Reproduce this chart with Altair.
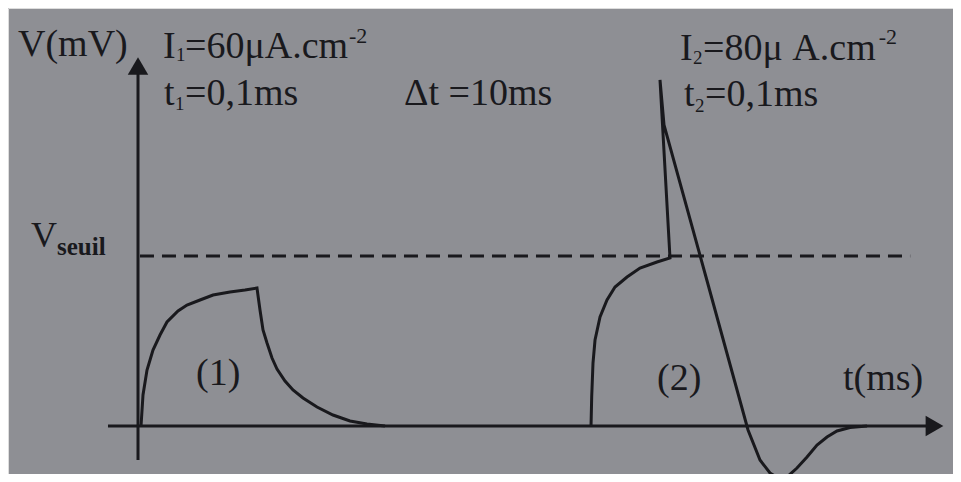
import altair as alt
import pandas as pd

# ---- data (t in ms, V in arbitrary mV units) ----
# response (1): subthreshold stimulus I1
t_curve1 = [0.067, 0.111, 0.2, 0.333, 0.489, 0.644, 0.889, 1.089, 1.378, 1.667,
            2.044, 2.378, 2.644, 2.711, 2.778, 2.867, 2.978, 3.089, 3.267, 3.444,
            3.667, 3.978, 4.333, 4.711, 5.089, 5.489]
v_curve1 = [0, 3.1, 5.6, 7.6, 9.1, 10.4, 11.5, 12.1, 12.6, 13.1,
            13.4, 13.6, 13.8, 11.6, 9.6, 8.3, 6.8, 5.7, 4.5, 3.6,
            2.8, 1.9, 1.1, 0.5, 0.2, 0]
# response (2): stimulus I2 -> action potential
t_curve2 = [10.067, 10.082, 10.111, 10.156, 10.267, 10.422, 10.6, 10.867, 11.156, 11.533,
            11.822, 11.6, 11.689, 12.622, 13.556, 13.822, 14.044, 14.222, 14.422, 14.644,
            14.867, 15.089, 15.311, 15.533, 15.822, 16.2]
v_curve2 = [0, 2.9, 6.3, 8.6, 10.9, 12.6, 13.9, 14.9, 15.8, 16.4,
            16.8, 34.6, 30.1, 14.9, -0.4, -3.4, -4.7, -5.2, -5.1, -4.2,
            -3.1, -1.9, -1.1, -0.5, -0.15, 0]

v_seuil = 17.0
seuil_t = [0.044, 17.16]

x_axis_t = [-0.667, 17.7]
y_axis_v = [-3.4, 36.0]

label_text = ["V(mV)", "I", "1", "=60μA.cm", "-2", "t", "1", "=0,1ms", "Δt =10ms",
              "I", "2", "=80μ A.cm", "-2", "t", "2", "=0,1ms",
              "V", "(1)", "(2)", "t(ms)"]
label_t = [-2.667, 0.556, 0.844, 1.044, 4.689, 0.578, 0.822, 1.044, 5.911,
           12.044, 12.333, 12.556, 16.46, 12.133, 12.378, 12.6,
           -2.378, 1.289, 11.533, 15.667]
label_v = [37.0, 36.8, 36.5, 36.8, 38.3, 32.1, 31.6, 32.1, 32.1,
           36.6, 36.2, 36.6, 38.2, 32.0, 31.4, 32.0,
           17.9, 4.1, 3.6, 3.6]
label_size = [38, 38, 19, 38, 22, 38, 19, 38, 38,
              38, 19, 38, 22, 38, 19, 38,
              36, 38, 38, 38]

seuil_label = ["seuil"]
seuil_label_t = [-1.8]
seuil_label_v = [17.1]

# ---- tables ----
curves = pd.DataFrame({
    "t": t_curve1 + t_curve2,
    "V": v_curve1 + v_curve2,
    "serie": ["1"] * len(t_curve1) + ["2"] * len(t_curve2),
    "ordre": list(range(len(t_curve1))) + list(range(len(t_curve2))),
})
axes = pd.DataFrame({
    "t": x_axis_t + [0, 0],
    "V": [0, 0] + y_axis_v,
    "axe": ["x", "x", "y", "y"],
})
seuil = pd.DataFrame({"t": seuil_t, "V": [v_seuil, v_seuil]})
heads = pd.DataFrame({
    "t": [x_axis_t[1], 0],
    "V": [0, y_axis_v[1]],
    "shape": ["triangle-right", "triangle-up"],
})
labels = pd.DataFrame({"t": label_t, "V": label_v, "text": label_text, "size": label_size})
seuil_lab = pd.DataFrame({"t": seuil_label_t, "V": seuil_label_v, "text": seuil_label})

INK = "#19191d"
SERIF = "Liberation Serif, Times New Roman, serif"
xs = alt.Scale(domain=[-2.889, 18.111], nice=False, zero=False)
ys = alt.Scale(domain=[-4.8, 41.8], nice=False, zero=False)
X = alt.X("t:Q", scale=xs, axis=None)
Y = alt.Y("V:Q", scale=ys, axis=None)

axes_layer = alt.Chart(axes).mark_line(color=INK, strokeWidth=3).encode(
    x=X, y=Y, detail="axe:N")
seuil_layer = alt.Chart(seuil).mark_line(color=INK, strokeWidth=3, strokeDash=[14, 8]).encode(
    x=X, y=Y)
curve_layer = alt.Chart(curves).mark_line(color=INK, strokeWidth=3, strokeJoin="miter").encode(
    x=X, y=Y, detail="serie:N", order="ordre:Q")
head_layer = alt.Chart(heads).mark_point(filled=True, color=INK, opacity=1, size=420).encode(
    x=X, y=Y, shape=alt.Shape("shape:N", scale=None))
text_layer = alt.Chart(labels).mark_text(
    align="left", baseline="alphabetic", font=SERIF, color=INK
).encode(x=X, y=Y, text="text:N", size=alt.Size("size:Q", scale=None))
seuil_text = alt.Chart(seuil_lab).mark_text(
    align="left", baseline="alphabetic", font=SERIF, color=INK, fontSize=25, fontWeight="bold"
).encode(x=X, y=Y, text="text:N")

chart = alt.layer(axes_layer, seuil_layer, curve_layer, head_layer, text_layer, seuil_text).properties(
    width=945, height=466, padding=0,
    autosize=alt.AutoSizeParams(type="none"),
    background="#8e8f94",
).configure_view(stroke=None).configure(font=SERIF)

chart.save("out.html", embed_options={"renderer": "svg", "actions": False})
